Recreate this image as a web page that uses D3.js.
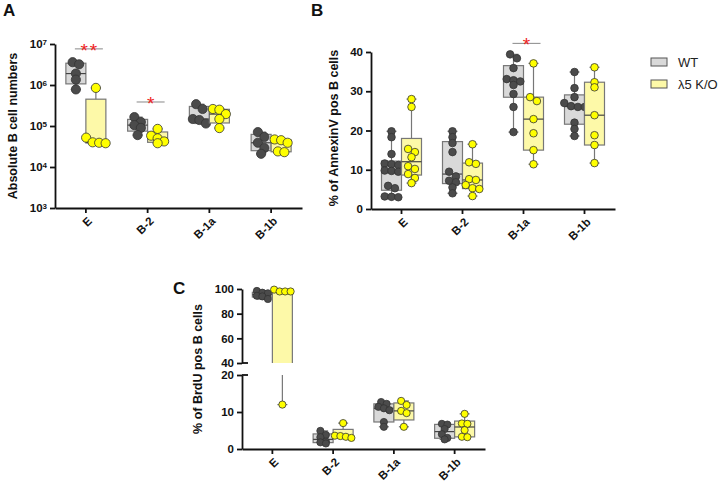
<!DOCTYPE html>
<html>
<head>
<meta charset="utf-8">
<script src="https://d3js.org/d3.v7.min.js"></script>
<style>
  body { margin: 0; background: #fff; }
  svg { font-family: "Liberation Sans", Arial, sans-serif; }
  .axis path, .axis line { stroke: #111; stroke-width: 1.8px; }
  .axis text { font-size: 11.5px; font-weight: bold; fill: #111; }
</style>
</head>
<body>
<svg id="chart" width="721" height="487"></svg>
<script>
// categories and groups
var categories = ["E", "B-2", "B-1a", "B-1b"];
var groups = ["WT", "λ5 K/O"];

// A: absolute B cell numbers (one list of mice per category)
var absWT = [
  [7.8e5, 1.35e6, 1.9e6, 3.2e6, 3.6e6],
  [6.0e4, 9.0e4, 1.05e5, 1.25e5, 1.65e5],
  [1.15e5, 1.4e5, 1.48e5, 2.6e5, 3.4e5],
  [2.1e4, 2.9e4, 3.9e4, 5.4e4, 7.1e4]
];
var absKO = [
  [3.8e4, 3.9e4, 4.0e4, 5.2e4, 8.5e5],
  [3.8e4, 4.2e4, 5.0e4, 5.8e4, 8.5e4],
  [8.9e4, 1.48e5, 1.95e5, 2.5e5, 2.6e5],
  [2.3e4, 2.4e4, 3.9e4, 4.5e4, 4.7e4]
];
var absTicks = [1e3, 1e4, 1e5, 1e6, 1e7];

// B: % AnnexinV+ B cells
var annWT = [
  [3.0, 3.1, 3.2, 5.3, 5.9, 9.5, 9.7, 9.8, 11.2, 11.4, 11.6, 14.0, 18.3, 19.8],
  [4.0, 5.5, 6.8, 7.2, 8.3, 9.5, 14.5, 16.8, 18.3, 19.8],
  [19.6, 26.0, 29.3, 31.6, 32.5, 32.8, 33.1, 35.9, 38.4, 39.4],
  [18.6, 20.4, 22.0, 26.0, 26.0, 26.2, 27.0, 28.5, 30.8, 34.9]
];
var annKO = [
  [6.6, 7.9, 8.9, 10.2, 10.9, 13.2, 14.5, 15.3, 26.0, 28.0],
  [3.3, 5.1, 5.3, 6.1, 7.4, 7.6, 11.5, 11.9, 16.5],
  [11.4, 15.0, 19.3, 22.9, 27.5, 28.5, 37.1],
  [11.7, 16.3, 18.8, 23.9, 31.0, 32.3, 36.1]
];
var annTicks = [0, 10, 20, 30, 40];

// C: % BrdU+ B cells (values between 20 and 40 fall in the axis break)
var brduWT = [
  [91.9, 94.0, 94.5, 96.5, 97.0, 98.4],
  [1.5, 1.8, 2.0, 3.2, 3.8, 4.9],
  [6.0, 7.3, 10.5, 11.0, 11.4, 12.2, 12.7],
  [2.6, 3.0, 4.0, 5.4, 6.6, 6.8]
];
var brduKO = [
  [12, 30, 98, 98, 98, 99.5],
  [3.0, 3.3, 3.5, 3.6, 7.0],
  [6.0, 9.7, 10.3, 11.9, 13.0],
  [3.2, 3.3, 5.1, 6.8, 6.9, 9.5]
];
var brduTicksTop = [40, 60, 80, 100];
var brduTicksBottom = [0, 10, 20];

// significance bars: category, height in data units, label
var sigA = [["E", 7.6e6, "**"], ["B-2", 3.85e5, "*"]];
var sigB = [["B-1a", 42.2, "*"]];

var colors = {
  wtBox: "#d9d9d9", koBox: "#fdf9a8",
  wtDot: "#4b4b4b", koDot: "#ffff00",
  edge: "#777", star: "#ee2222"
};

var svg = d3.select("#chart");

// quartiles the way Prism does them: position (n+1)p
function boxStats(vals) {
  var s = vals.slice().sort(d3.ascending), n = s.length;
  function q(p) {
    var h = (n + 1) * p;
    if (h <= 1) return s[0];
    if (h >= n) return s[n - 1];
    var lo = Math.floor(h);
    return s[lo - 1] + (h - lo) * (s[lo] - s[lo - 1]);
  }
  return { min: s[0], q1: q(0.25), med: q(0.5), q3: q(0.75), max: s[n - 1] };
}

// rows of points centred on the box
function swarm(vals, y, cx, r, step) {
  var pts = vals.map(function(v) { return { v: v, y: y(v) }; })
                .sort(function(a, b) { return a.y - b.y; });
  var rows = [];
  pts.forEach(function(p) {
    var last = rows[rows.length - 1];
    if (last && p.y - last[0].y < r * 1.25) last.push(p);
    else rows.push([p]);
  });
  rows.forEach(function(row) {
    row.forEach(function(p, i) { p.x = cx + (i - (row.length - 1) / 2) * step; });
  });
  return pts;
}

function drawBoxes(g, x, y, wt, ko, r, step) {
  var half = 20;
  categories.forEach(function(c, i) {
    [[wt[i], colors.wtBox, colors.wtDot, -1], [ko[i], colors.koBox, colors.koDot, 1]]
    .forEach(function(set) {
      var st = boxStats(set[0]);
      var x0 = x(c) + x.bandwidth() / 2 + (set[3] < 0 ? -half : 0);
      var cx = x0 + half / 2;
      var b = g.append("g");
      b.append("line").attr("x1", cx).attr("x2", cx).attr("y1", y(st.max)).attr("y2", y(st.min))
        .attr("stroke", colors.edge).attr("stroke-width", 1.2);
      [st.max, st.min].forEach(function(v) {
        b.append("line").attr("x1", cx - 5).attr("x2", cx + 5).attr("y1", y(v)).attr("y2", y(v))
          .attr("stroke", colors.edge).attr("stroke-width", 1.2);
      });
      b.append("rect").attr("x", x0).attr("width", half)
        .attr("y", y(st.q3)).attr("height", y(st.q1) - y(st.q3))
        .attr("fill", set[1]).attr("stroke", colors.edge).attr("stroke-width", 1.2);
      b.append("line").attr("x1", x0).attr("x2", x0 + half).attr("y1", y(st.med)).attr("y2", y(st.med))
        .attr("stroke", "#444").attr("stroke-width", 1.2);
      b.selectAll("circle").data(swarm(set[0], y, cx, r, step)).enter().append("circle")
        .attr("cx", function(d) { return d.x; }).attr("cy", function(d) { return d.y; })
        .attr("r", r).attr("fill", set[2]).attr("stroke", "#333").attr("stroke-width", 0.8);
    });
  });
}

function xAxis(g, x, yPos) {
  var ax = g.append("g").attr("class", "axis").attr("transform", "translate(0," + yPos + ")")
    .call(d3.axisBottom(x).tickSize(5).tickSizeOuter(0));
  ax.selectAll("text")
    .attr("text-anchor", "end")
    .attr("transform", "translate(4,11) rotate(-45)")
    .attr("x", 0).attr("y", 0).attr("dy", "0.35em");
}

function yTitle(text, x, y) {
  svg.append("text").attr("transform", "translate(" + x + "," + y + ") rotate(-90)")
    .attr("text-anchor", "middle").attr("font-size", 12.5).attr("font-weight", "bold")
    .attr("fill", "#111").text(text);
}

function letter(t, x, y) {
  svg.append("text").attr("x", x).attr("y", y).attr("font-size", 17)
    .attr("font-weight", "bold").attr("fill", "#111").text(t);
}

function sig(g, x, y, list) {
  list.forEach(function(s) {
    var cx = x(s[0]) + x.bandwidth() / 2;
    g.append("line").attr("x1", cx - 11).attr("x2", cx + 17).attr("y1", y(s[1])).attr("y2", y(s[1]))
      .attr("stroke", "#888").attr("stroke-width", 1);
    g.append("text").attr("x", cx + 4).attr("y", y(s[1]) + 8).attr("text-anchor", "middle")
      .attr("font-size", 19).attr("fill", colors.star).attr("letter-spacing", 2).text(s[2]);
  });
}

// ---- Panel A ----
var gA = svg.append("g");
var xA = d3.scaleBand().domain(categories).range([55, 302]);
var yA = d3.scaleLog().domain([1e3, 1e7]).range([208, 44]);
drawBoxes(gA, xA, yA, absWT, absKO, 4.6, 6.5);
sig(gA, xA, yA, sigA);
var axA = gA.append("g").attr("class", "axis").attr("transform", "translate(55,0)")
  .call(d3.axisLeft(yA).tickValues(absTicks).tickSize(5).tickSizeOuter(0).tickFormat(function() { return ""; }));
axA.selectAll(".tick text").each(function(d) {
  var t = d3.select(this);
  t.append("tspan").text("10");
  t.append("tspan").attr("dy", "-0.45em").attr("font-size", 8).text(Math.round(Math.log10(d)));
});
xAxis(gA, xA, 208);
yTitle("Absolute B cell numbers", 17, 126);
letter("A", 3, 16);

// ---- Panel B ----
var gB = svg.append("g");
var xB = d3.scaleBand().domain(categories).range([371, 615]);
var yB = d3.scaleLinear().domain([0, 40]).range([209, 52]);
drawBoxes(gB, xB, yB, annWT, annKO, 3.8, 6.8);
sig(gB, xB, yB, sigB);
gB.append("g").attr("class", "axis").attr("transform", "translate(371,0)")
  .call(d3.axisLeft(yB).tickValues(annTicks).tickSize(5).tickSizeOuter(0));
xAxis(gB, xB, 209);
yTitle("% of AnnexinV pos B cells", 338, 128);
letter("B", 311, 16);

// legend
var leg = svg.append("g");
groups.forEach(function(name, i) {
  leg.append("rect").attr("x", 651).attr("y", 58 + i * 22).attr("width", 16).attr("height", 8)
    .attr("fill", i ? colors.koBox : colors.wtBox).attr("stroke", "#555").attr("stroke-width", 1);
  leg.append("text").attr("x", 678).attr("y", 67 + i * 22).attr("font-size", 13)
    .attr("fill", "#222").text(name);
});

// ---- Panel C (broken axis) ----
var gC = svg.append("g");
var xC = d3.scaleBand().domain(categories).range([242, 485]);
var yCTop = d3.scaleLinear().domain([40, 100]).range([363, 289]);
var yCBot = d3.scaleLinear().domain([0, 20]).range([449, 375]);
var defs = svg.append("defs");
defs.append("clipPath").attr("id", "clipTop").append("rect")
  .attr("x", 242).attr("y", 270).attr("width", 260).attr("height", 93);
defs.append("clipPath").attr("id", "clipBot").append("rect")
  .attr("x", 242).attr("y", 375).attr("width", 260).attr("height", 80);
drawBoxes(gC.append("g").attr("clip-path", "url(#clipTop)"), xC, yCTop, brduWT, brduKO, 3.6, 5.5);
drawBoxes(gC.append("g").attr("clip-path", "url(#clipBot)"), xC, yCBot, brduWT, brduKO, 3.6, 5.5);
gC.append("g").attr("class", "axis").attr("transform", "translate(242,0)")
  .call(d3.axisLeft(yCTop).tickValues(brduTicksTop).tickSize(5).tickSizeOuter(0));
gC.append("g").attr("class", "axis").attr("transform", "translate(242,0)")
  .call(d3.axisLeft(yCBot).tickValues(brduTicksBottom).tickSize(5).tickSizeOuter(0));
// break marks
[yCTop(40), yCBot(20)].forEach(function(yy) {
  gC.append("line").attr("x1", 242).attr("x2", 248).attr("y1", yy).attr("y2", yy)
    .attr("stroke", "#111").attr("stroke-width", 1.8);
});
xAxis(gC, xC, 449);
yTitle("% of BrdU pos B cells", 202, 369);
letter("C", 173, 294);
</script>
</body>
</html>
